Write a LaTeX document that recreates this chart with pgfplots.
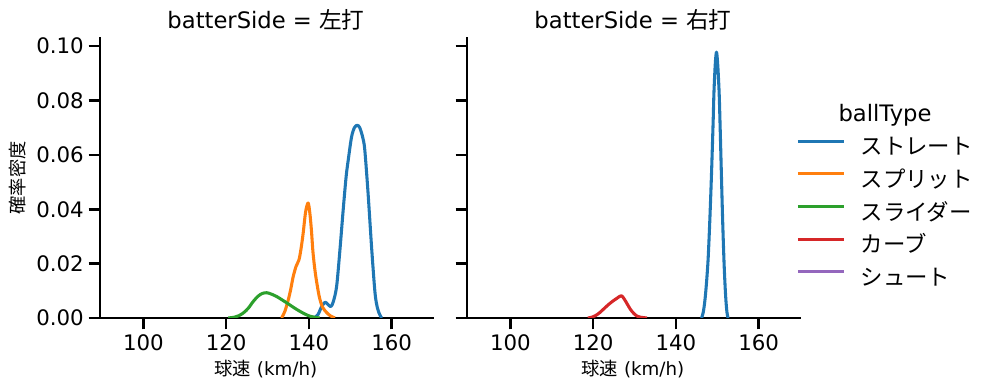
\documentclass[border=0pt]{standalone}
\usepackage{pgfplots}
\pgfplotsset{compat=1.18}
\usepackage{fontspec}
\setmainfont{DejaVu Sans}
\newfontfamily\cjk{Noto Sans CJK JP}
\definecolor{c1}{HTML}{1F77B4}
\definecolor{c2}{HTML}{FF7F0E}
\definecolor{c3}{HTML}{2CA02C}
\definecolor{c4}{HTML}{D62728}
\definecolor{c5}{HTML}{9467BD}
\begin{document}
\begin{tikzpicture}
\useasboundingbox (0,0) rectangle (746.25pt,293.25pt);
\pgfplotsset{
 facet/.style={
  scale only axis, width=249.75pt, height=210pt, anchor=south west,
  xmin=89.5, xmax=170, ymin=0, ymax=0.1030,
  axis lines=left, axis line style={-, line width=1.95pt, black, line cap=rect},
  tick align=outside, major tick length=8.6pt,
  tick style={black, line width=1.95pt},
  xtick={100,120,140,160}, ytick={0,0.02,0.04,0.06,0.08,0.10},
  /pgf/number format/assume math mode=true,
  ticklabel style={font=\fontsize{16}{19}\selectfont},
  every axis plot/.append style={line width=2.3pt, smooth, no markers, line join=round},
 }
}
\begin{axis}[facet, at={(75pt,54.75pt)}, yticklabels={0.00,0.02,0.04,0.06,0.08,0.10}]
\addplot[c1] coordinates {
(140.6,0.0000) (141.5,0.0003) (142.3,0.0015) (143.0,0.0040) (143.9,0.0058)
(144.6,0.0050) (145.3,0.0042) (145.9,0.0060) (146.7,0.0116) (147.5,0.0250)
(148.3,0.0400) (149.0,0.0520) (149.5,0.0580) (150.3,0.0665) (151.0,0.0700)
(151.7,0.0709) (152.3,0.0700) (153.0,0.0665) (153.5,0.0620) (154.3,0.0460)
(155.2,0.0250) (156.0,0.0090) (156.6,0.0035) (157.2,0.0010) (157.6,0.0000)};
\addplot[c2] coordinates {
(133.4,0.0000) (134.2,0.0025) (135.0,0.0066) (135.6,0.0105) (136.2,0.0152)
(136.9,0.0190) (137.6,0.0214) (138.1,0.0255) (138.6,0.0310) (139.2,0.0390)
(139.8,0.0423) (140.2,0.0390) (140.6,0.0325) (141.0,0.0240) (141.6,0.0160)
(142.5,0.0079) (143.3,0.0040) (144.3,0.0020) (145.2,0.0008) (146.3,0.0000)};
\addplot[c3] coordinates {
(120.5,0.0000) (122.0,0.0003) (123.0,0.0008) (124.1,0.0018) (125.3,0.0035)
(126.5,0.0060) (127.7,0.0080) (128.7,0.0090) (129.8,0.0093) (130.9,0.0088)
(132.2,0.0079) (133.8,0.0064) (135.4,0.0048) (137.0,0.0032) (138.6,0.0018)
(140.0,0.0008) (141.3,0.0003) (142.6,0.0000)};
\end{axis}
\begin{axis}[facet, at={(350.25pt,54.75pt)}, yticklabels={},
  legend style={at={(0.988,0.641)}, anchor=north west, draw=none, fill=none,
    inner sep=0pt, row sep=9.5pt, column sep=11pt,
    font=\fontsize{16.8}{19}\selectfont\cjk,
    nodes={inner sep=0pt, text height=12pt, text depth=3pt}},
  legend cell align=left,
  legend image code/.code={\draw[#1, line width=2.3pt] (0pt,5.8pt) -- (35pt,5.8pt);}]
\addlegendimage{c1}
\addlegendimage{c2}
\addlegendimage{c3}
\addlegendimage{c4}
\addlegendimage{c5}
\addplot[c1, forget plot] coordinates {
(146.2,0.0000) (146.6,0.0020) (147.0,0.0063) (147.4,0.0130) (147.8,0.0220)
(148.2,0.0360) (148.6,0.0527) (149.0,0.0720) (149.2,0.0830) (149.5,0.0930)
(149.8,0.0978) (150.1,0.0935) (150.45,0.0830) (150.7,0.0700) (151.0,0.0527)
(151.3,0.0360) (151.6,0.0220) (151.85,0.0130) (152.1,0.0063) (152.35,0.0020)
(152.6,0.0000)};
\addplot[c4, forget plot] coordinates {
(118.7,0.0000) (119.7,0.0003) (120.6,0.0009) (121.6,0.0020) (122.6,0.0034)
(123.6,0.0048) (124.65,0.0061) (125.7,0.0072) (126.8,0.0082) (127.5,0.0070)
(128.25,0.0051) (129.0,0.0032) (129.8,0.0017) (130.6,0.0007) (131.4,0.0003)
(133.0,0.0000)};
\legend{ストレート,スプリット,スライダー,カーブ,シュート}
\end{axis}
\node[font=\fontsize{17}{20}\selectfont] at (199.5pt,278.25pt) {batterSide = {\cjk 左打}};
\node[font=\fontsize{17}{20}\selectfont] at (474.75pt,278.25pt) {batterSide = {\cjk 右打}};
\node[font=\fontsize{13.7}{16}\selectfont] at (199.5pt,16.5pt) {{\cjk 球速} (km/h)};
\node[font=\fontsize{13.7}{16}\selectfont] at (474.75pt,16.5pt) {{\cjk 球速} (km/h)};
\node[font=\fontsize{13.7}{16}\selectfont\cjk, rotate=90] at (13.5pt,159.75pt) {確率密度};
\node[font=\fontsize{17}{20}\selectfont] at (663.75pt,207pt) {ballType};
\end{tikzpicture}
\end{document}
